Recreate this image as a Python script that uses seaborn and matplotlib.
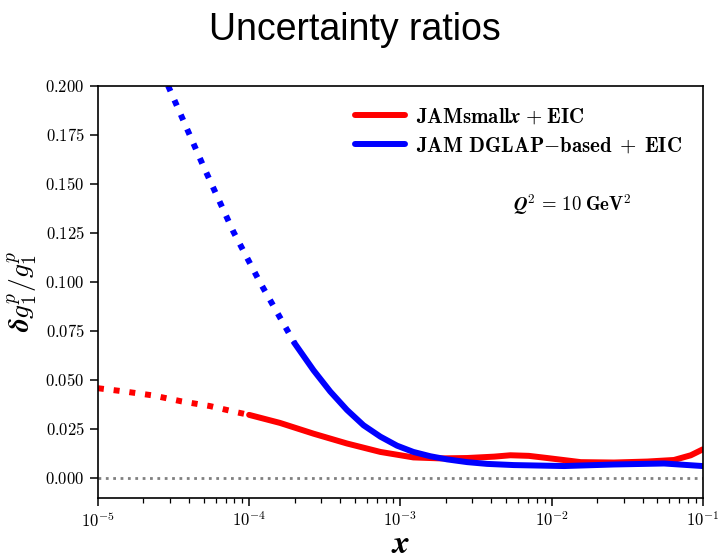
import math
import matplotlib
matplotlib.use("Agg")
import matplotlib.pyplot as plt
from matplotlib.ticker import FuncFormatter, LogLocator, NullFormatter
import seaborn as sns

# JAM small-x + EIC: extrapolated (dotted) and constrained (solid) ranges
red_dot_x = [1.0e-5, 1.51e-5, 2.32e-5, 3.57e-5, 5.50e-5, 8.20e-5, 1.0e-4]
red_dot_y = [0.0457, 0.0440, 0.0420, 0.0390, 0.0366, 0.0335, 0.0321]
red_x = [1.0e-4, 1.60e-4, 2.67e-4, 4.44e-4, 7.38e-4, 1.22e-3, 1.84e-3, 2.77e-3,
         4.17e-3, 5.35e-3, 7.08e-3, 9.35e-3, 1.56e-2, 2.59e-2, 4.31e-2, 6.46e-2,
         8.34e-2, 1.0e-1]
red_y = [0.0321, 0.0280, 0.0225, 0.0175, 0.0132, 0.0104, 0.0099, 0.0101,
         0.0108, 0.0115, 0.0112, 0.0101, 0.0080, 0.0078, 0.0083, 0.0091,
         0.0115, 0.0145]

# JAM DGLAP-based + EIC
blue_dot_x = [2.91e-5, 4.98e-5, 7.87e-5, 1.18e-4, 1.82e-4, 2.0e-4]
blue_dot_y = [0.2000, 0.1590, 0.1255, 0.0997, 0.0742, 0.0686]
blue_x = [2.0e-4, 2.67e-4, 3.44e-4, 4.44e-4, 5.71e-4, 7.38e-4, 9.51e-4, 1.22e-3,
          1.58e-3, 2.04e-3, 2.77e-3, 3.75e-3, 5.62e-3, 1.21e-2, 2.59e-2, 5.55e-2,
          1.0e-1]
blue_y = [0.0686, 0.0548, 0.0440, 0.0346, 0.0268, 0.0210, 0.0164, 0.0132,
          0.0110, 0.0094, 0.0080, 0.0071, 0.0065, 0.0060, 0.0068, 0.0073,
          0.0060]

y_ticks = [0.000, 0.025, 0.050, 0.075, 0.100, 0.125, 0.150, 0.175, 0.200]

sns.set_style("ticks")
plt.rcParams["font.family"] = ["DejaVu Serif"]
plt.rcParams["mathtext.fontset"] = "cm"
plt.rcParams["axes.linewidth"] = 1.2
for key in ("text.color", "axes.labelcolor", "xtick.color", "ytick.color",
            "axes.edgecolor"):
    plt.rcParams[key] = "black"

fig = plt.figure(figsize=(7.2, 5.6), dpi=100)
ax = fig.add_axes([0.136, 0.110, 0.840, 0.737])

lw = 4.3
sns.lineplot(x=red_dot_x, y=red_dot_y, ax=ax, color="#ff0000", linewidth=lw,
             linestyle=":", legend=False, sort=False)
sns.lineplot(x=red_x, y=red_y, ax=ax, color="#ff0000", linewidth=lw,
             label=r"$\mathbf{JAMsmall}\boldsymbol{x}\;\mathbf{+\;EIC}$", sort=False)
sns.lineplot(x=blue_dot_x, y=blue_dot_y, ax=ax, color="#0000ff", linewidth=lw,
             linestyle=":", legend=False, sort=False)
sns.lineplot(x=blue_x, y=blue_y, ax=ax, color="#0000ff", linewidth=lw,
             label=r"$\mathbf{JAM\ DGLAP{-}based\;+\;EIC}$", sort=False)

ax.axhline(0, color="gray", linestyle=":", linewidth=2, zorder=1)

ax.set_xscale("log")
ax.set_xlim(1e-5, 1e-1)
ax.set_ylim(-0.0105, 0.2)
ax.set_yticks(y_ticks)
ax.yaxis.set_major_formatter(FuncFormatter(lambda v, p: r"$%.3f$" % v))
ax.xaxis.set_major_locator(LogLocator(base=10, numticks=10))
ax.xaxis.set_minor_locator(LogLocator(base=10, subs=range(2, 10), numticks=20))
ax.xaxis.set_minor_formatter(NullFormatter())
ax.xaxis.set_major_formatter(FuncFormatter(
    lambda v, p: r"$10^{%d}$" % round(math.log10(v))))
ax.tick_params(axis="both", which="major", direction="out", length=6, width=1.1,
               labelsize=12, color="black")
ax.tick_params(axis="x", which="minor", direction="out", length=3.5, width=0.9)
for s in ax.spines.values():
    s.set_visible(True)
    s.set_color("black")

ax.set_xlabel(r"$\boldsymbol{x}$", fontsize=24, labelpad=-2)
ax.set_ylabel(r"$\boldsymbol{\delta g_1^p / g_1^p}$", fontsize=20, labelpad=4)

leg = ax.legend(loc="upper right", frameon=False, fontsize=15, handlelength=2.4,
                handletextpad=0.5, borderaxespad=0.6, labelspacing=0.45)

ax.text(0.686, 0.713,
        r"$\boldsymbol{Q}^{\mathbf{2}}\,=\,\mathbf{10}\;\mathbf{GeV}^{\mathbf{2}}$",
        transform=ax.transAxes, fontsize=13.5, ha="left", va="center")

fig.text(0.493, 0.947, "Uncertainty ratios", family="Liberation Sans",
         fontsize=27, ha="center", va="center", color="black")

fig.savefig("out.png", dpi=100)
